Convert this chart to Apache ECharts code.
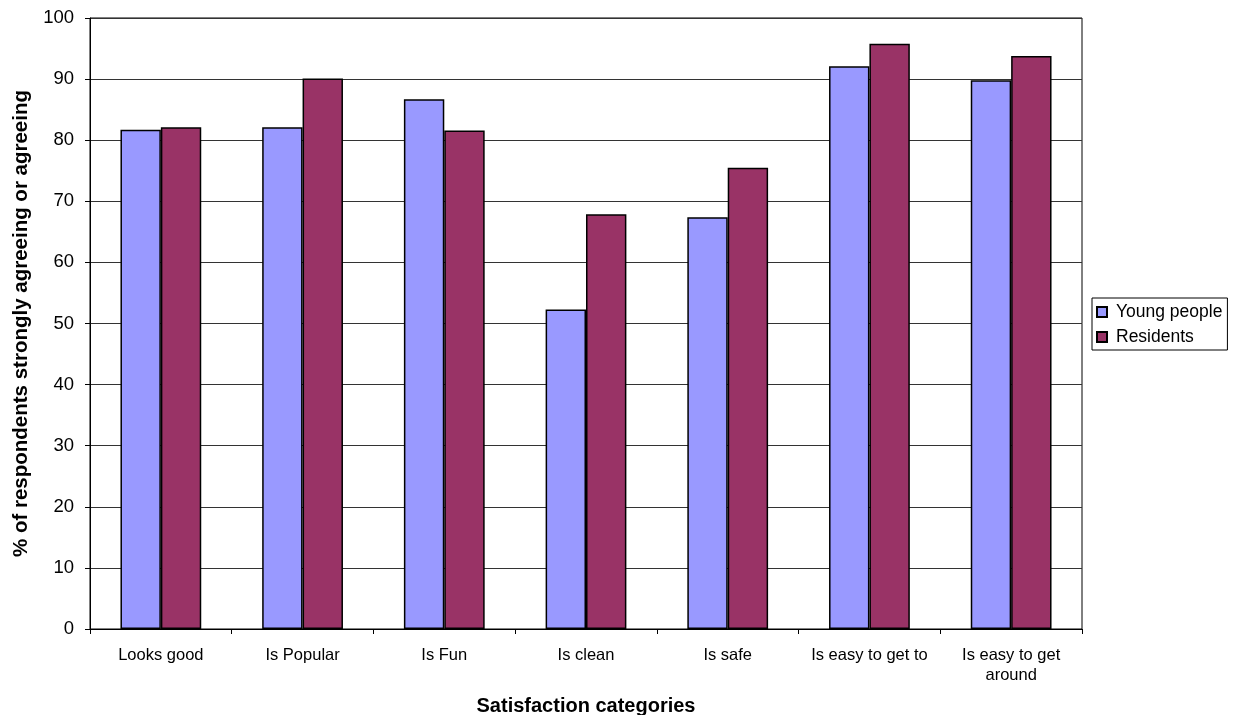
<!DOCTYPE html>
<html><head><meta charset="utf-8">
<script src="https://cdn.jsdelivr.net/npm/echarts@6/dist/echarts.min.js"></script>
<style>html,body{margin:0;padding:0;background:#fff;overflow:hidden}#c{width:1237px;height:715px}</style>
</head><body><div id="c"></div>
<script>
const categories = ["Looks good", "Is Popular", "Is Fun", "Is clean", "Is safe", "Is easy to get to", "Is easy to get\naround"];
const youngPeople = [81.7, 82.1, 86.7, 52.3, 67.4, 92.1, 89.8];
const residents = [82.1, 90.1, 81.6, 67.9, 75.5, 95.8, 93.8];
const seriesNames = ["Young people", "Residents"];

const chart = echarts.init(document.getElementById('c'), null, {renderer: 'canvas', width: 1237, height: 715});
const font = 'Liberation Sans, Arial, sans-serif';
chart.setOption({
  animation: false,
  textStyle: {fontFamily: font},
  grid: {left: 90, right: 155, top: 18, bottom: 86, outerBoundsMode: 'none', containLabel: false,
         show: true, borderColor: '#000', borderWidth: 1, backgroundColor: 'transparent'},
  legend: {
    orient: 'vertical', left: 1092, top: 298,
    itemWidth: 10, itemHeight: 10, itemGap: 7,
    padding: [5, 5, 4, 4],
    borderColor: '#000', borderWidth: 1, borderRadius: 0,
    icon: 'rect',
    textStyle: {fontFamily: font, fontSize: 17.5, color: '#000', padding: [0, 0, 0, 4]},
    data: seriesNames
  },
  xAxis: {
    type: 'category', data: categories,
    axisLine: {lineStyle: {color: '#000', width: 1}},
    axisTick: {show: true, alignWithLabel: false, length: 5, lineStyle: {color: '#000'}},
    axisLabel: {fontFamily: font, fontSize: 16.5, color: '#000', margin: 16, lineHeight: 20, interval: 0},
    name: 'Satisfaction categories', nameLocation: 'middle', nameGap: 67,
    nameTextStyle: {fontFamily: font, fontSize: 20, fontWeight: 'bold', color: '#000'}
  },
  yAxis: {
    type: 'value', min: 0, max: 100, interval: 10,
    axisLine: {show: true, lineStyle: {color: '#000', width: 1}},
    axisTick: {show: true, length: 5, lineStyle: {color: '#000'}},
    axisLabel: {fontFamily: font, fontSize: 18.5, color: '#000', margin: 16},
    splitLine: {show: true, lineStyle: {color: '#333', width: 1}},
    name: '% of respondents strongly agreeing or agreeing', nameLocation: 'middle', nameGap: 57,
    nameTextStyle: {fontFamily: font, fontSize: 20.5, fontWeight: 'bold', color: '#000'}
  },
  series: [
    {name: seriesNames[0], type: 'bar', data: youngPeople, barGap: '0%', barCategoryGap: '43%',
     itemStyle: {color: '#9999FF', borderColor: '#000', borderWidth: 1.5}},
    {name: seriesNames[1], type: 'bar', data: residents, barGap: '0%', barCategoryGap: '43%',
     itemStyle: {color: '#993366', borderColor: '#000', borderWidth: 1.5}}
  ]
});
</script></body></html>
